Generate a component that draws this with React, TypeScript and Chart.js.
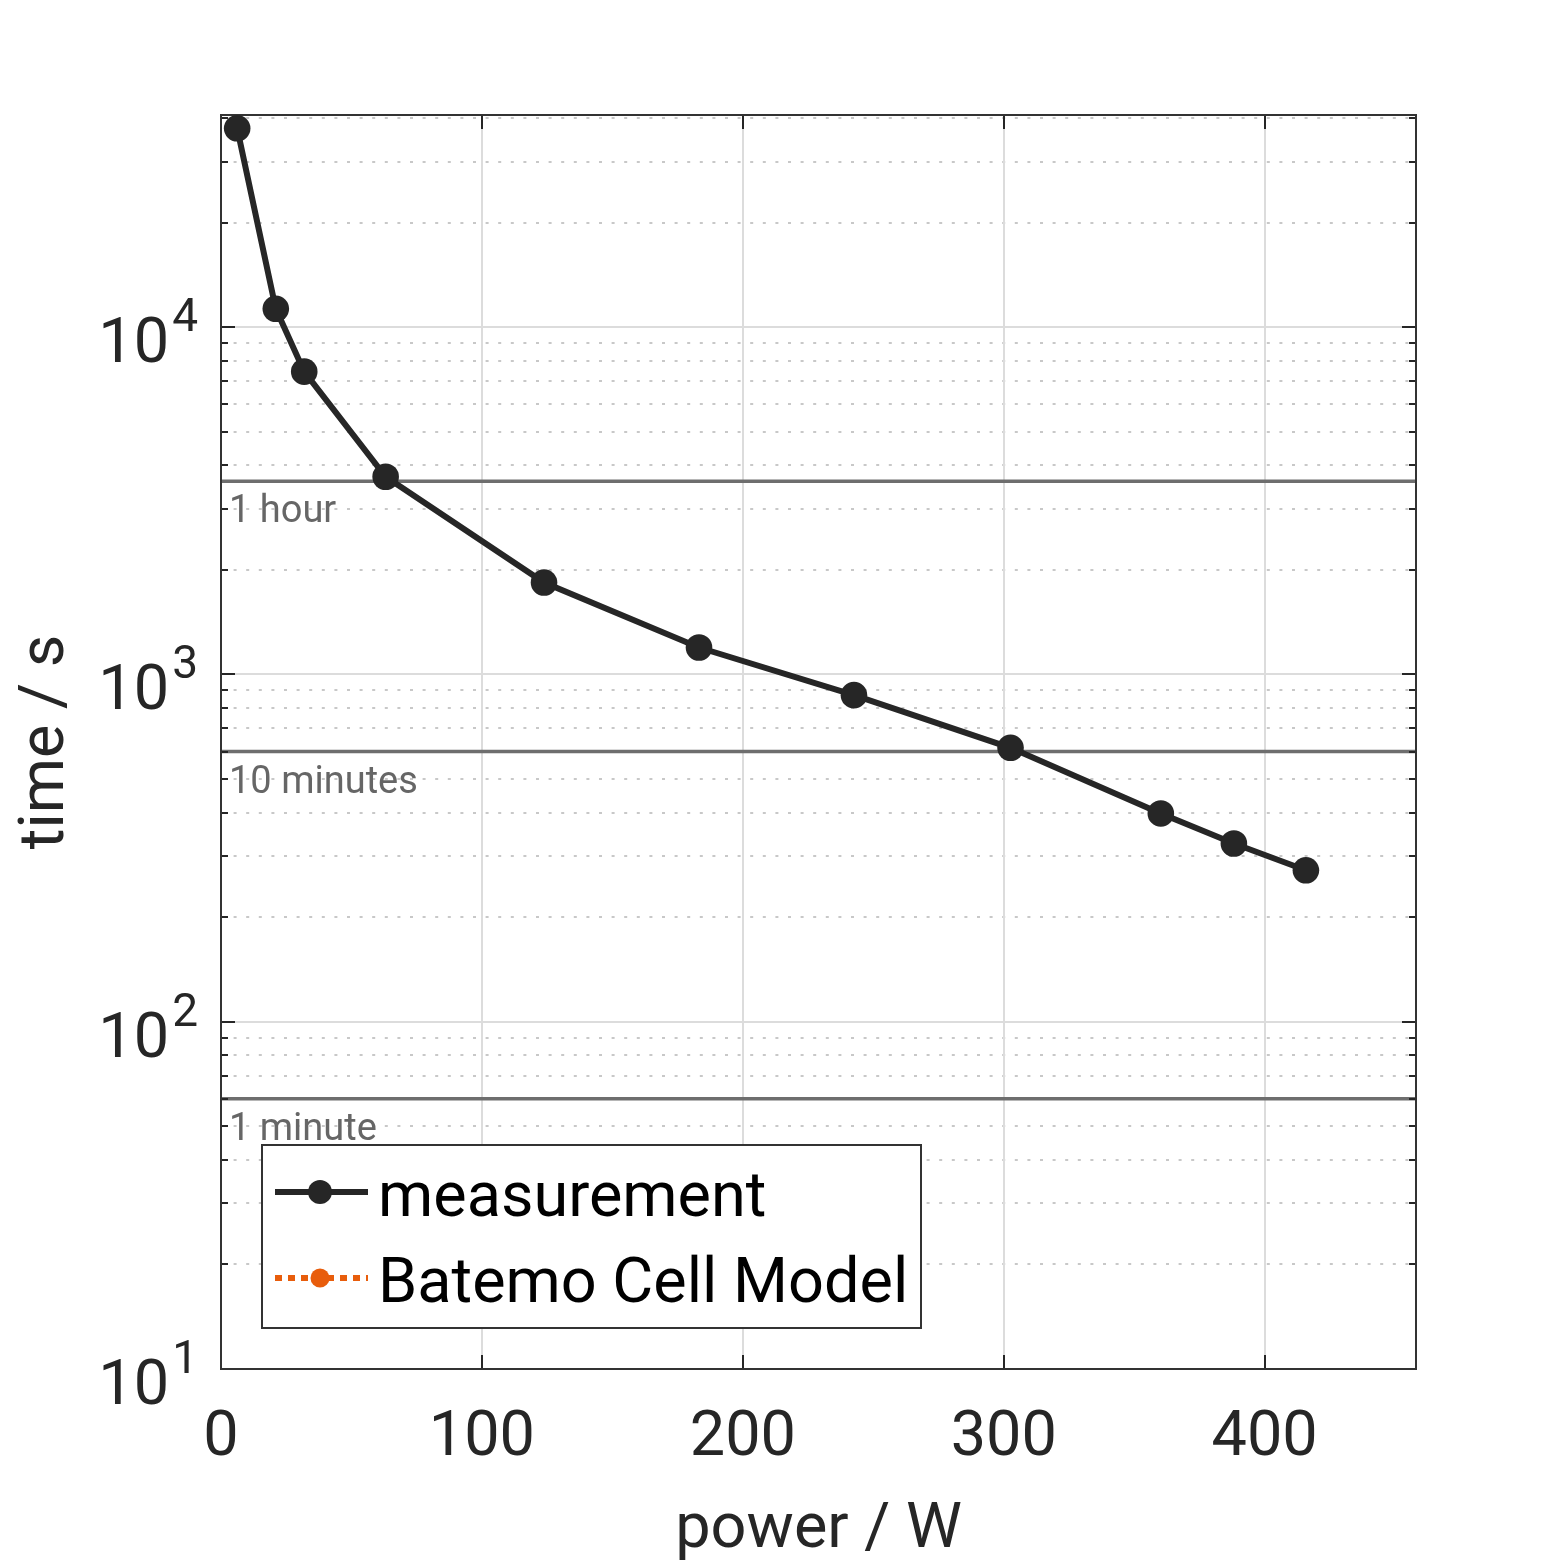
import React, { useEffect, useRef } from 'react';
import { Chart, registerables } from 'chart.js';

Chart.register(...registerables);

// ---- data ----
const powerW = [6.2, 21.0, 31.9, 63.1, 123.8, 183.2, 242.6, 302.6, 360.2, 388.2, 415.8];
const timeS = [37400, 11300, 7450, 3710, 1840, 1196, 872, 615, 398, 326, 273];
const modelPowerW: number[] = [];
const modelTimeS: number[] = [];
const seriesLabels = ['measurement', 'Batemo Cell Model'];
const xTicks = [0, 100, 200, 300, 400];
const yDecades = [10, 100, 1000, 10000];
const yExponents = ['1', '2', '3', '4'];
const yMinorMultipliers = [2, 3, 4, 5, 6, 7, 8, 9];
const refLineValues = [3600, 600, 60];
const refLineLabels = ['1 hour', '10 minutes', '1 minute'];
const xRange = [0, 458];
const yRange = [10, 40850];
const xTitle = 'power / W';
const yTitle = 'time / s';

const FONT = 'Roboto';
const DARK = '#262626';

const decorPlugin = {
  id: 'decor',
  beforeDatasetsDraw(chart: any) {
    const { ctx, chartArea: a, scales } = chart;
    const x = scales.x;
    const y = scales.y;
    const hline = (py: number, x0: number, x1: number) => {
      ctx.beginPath();
      ctx.moveTo(x0, py);
      ctx.lineTo(x1, py);
      ctx.stroke();
    };
    const vline = (px: number, y0: number, y1: number) => {
      ctx.beginPath();
      ctx.moveTo(px, y0);
      ctx.lineTo(px, y1);
      ctx.stroke();
    };
    const minorVals: number[] = [];
    yDecades.forEach((d) => yMinorMultipliers.forEach((m) => {
      const v = d * m;
      if (v <= yRange[1]) minorVals.push(v);
    }));
    ctx.save();
    // minor dotted grid
    ctx.setLineDash([3, 9.6]);
    ctx.strokeStyle = '#c8c8c8';
    ctx.lineWidth = 2;
    minorVals.forEach((v) => hline(Math.round(y.getPixelForValue(v)), a.left, a.right));
    ctx.setLineDash([]);
    // major grid
    ctx.strokeStyle = '#dcdcdc';
    ctx.lineWidth = 2;
    yDecades.forEach((v) => hline(Math.round(y.getPixelForValue(v)), a.left, a.right));
    xTicks.forEach((v) => vline(Math.round(x.getPixelForValue(v)), a.top, a.bottom));
    // reference lines
    ctx.strokeStyle = '#6e6e6e';
    ctx.lineWidth = 3.5;
    ctx.font = `38px ${FONT}`;
    ctx.textAlign = 'left';
    ctx.textBaseline = 'alphabetic';
    refLineValues.forEach((v, i) => {
      const py = y.getPixelForValue(v);
      hline(py, a.left, a.right);
      ctx.fillStyle = '#666666';
      ctx.fillText(refLineLabels[i], a.left + 8, py + 41);
    });
    // tick marks
    ctx.strokeStyle = DARK;
    ctx.lineWidth = 2;
    yDecades.forEach((v) => {
      const py = Math.round(y.getPixelForValue(v));
      hline(py, a.left, a.left + 14);
      hline(py, a.right - 14, a.right);
    });
    minorVals.forEach((v) => {
      const py = Math.round(y.getPixelForValue(v));
      hline(py, a.left, a.left + 7);
      hline(py, a.right - 7, a.right);
    });
    xTicks.forEach((v) => {
      const px = Math.round(x.getPixelForValue(v));
      vline(px, a.bottom, a.bottom - 14);
      vline(px, a.top, a.top + 14);
    });
    // border
    ctx.strokeStyle = '#333333';
    ctx.lineWidth = 2;
    ctx.strokeRect(a.left, a.top, a.right - a.left, a.bottom - a.top);
    ctx.restore();
  },
  afterDraw(chart: any) {
    const { ctx, chartArea: a, scales } = chart;
    const y = scales.y;
    ctx.save();
    // y tick labels with superscript exponent
    ctx.fillStyle = DARK;
    ctx.textAlign = 'right';
    ctx.textBaseline = 'alphabetic';
    const labelRight = a.left - 23;
    yDecades.forEach((v, i) => {
      const py = y.getPixelForValue(v);
      ctx.font = `46px ${FONT}`;
      const ew = ctx.measureText(yExponents[i]).width;
      ctx.fillText(yExponents[i], labelRight, py + 4);
      ctx.font = `63px ${FONT}`;
      ctx.fillText('10', labelRight - ew - 3, py + 35);
    });
    // legend
    const lx = a.left + 41;
    const ly = a.bottom - 224;
    const lw = 659;
    const lh = 183;
    ctx.fillStyle = '#ffffff';
    ctx.fillRect(lx, ly, lw, lh);
    ctx.strokeStyle = '#333333';
    ctx.lineWidth = 2;
    ctx.strokeRect(lx, ly, lw, lh);
    const rows = [ly + 47, ly + 133];
    chart.data.datasets.forEach((ds: any, i: number) => {
      const cy = rows[i];
      ctx.save();
      ctx.strokeStyle = ds.borderColor;
      ctx.lineWidth = ds.borderWidth;
      ctx.setLineDash(ds.borderDash || []);
      ctx.beginPath();
      ctx.moveTo(lx + 13, cy);
      ctx.lineTo(lx + 106, cy);
      ctx.stroke();
      ctx.setLineDash([]);
      ctx.fillStyle = ds.pointBackgroundColor;
      ctx.beginPath();
      ctx.arc(lx + 58, cy, i === 0 ? 12 : 9.5, 0, Math.PI * 2);
      ctx.fill();
      ctx.restore();
      ctx.fillStyle = '#000000';
      ctx.font = `63px ${FONT}`;
      ctx.textAlign = 'left';
      ctx.textBaseline = 'alphabetic';
      ctx.fillText(ds.label, lx + 116, cy + 24);
    });
    ctx.restore();
  },
};

export default function App() {
  const canvasRef = useRef<HTMLCanvasElement | null>(null);

  useEffect(() => {
    const canvas = canvasRef.current;
    if (!canvas) return;
    const chart = new Chart(canvas, {
      type: 'line',
      data: {
        datasets: [
          {
            label: seriesLabels[0],
            data: powerW.map((p, i) => ({ x: p, y: timeS[i] })),
            borderColor: DARK,
            backgroundColor: DARK,
            pointBackgroundColor: DARK,
            borderWidth: 6,
            pointRadius: 13.3,
            pointBorderWidth: 0,
            pointHoverRadius: 13.3,
            tension: 0,
            clip: false,
          } as any,
          {
            label: seriesLabels[1],
            data: modelPowerW.map((p, i) => ({ x: p, y: modelTimeS[i] })),
            borderColor: '#e85d0c',
            backgroundColor: '#e85d0c',
            pointBackgroundColor: '#e85d0c',
            borderWidth: 6,
            borderDash: [7, 6],
            pointRadius: 9.5,
            pointBorderWidth: 0,
            tension: 0,
            clip: false,
          } as any,
        ],
      },
      options: {
        responsive: false,
        devicePixelRatio: 1,
        animation: false,
        layout: { padding: { top: 115, right: 147, left: 0, bottom: 0 } },
        plugins: {
          legend: { display: false },
          tooltip: { enabled: false },
        },
        scales: {
          x: {
            type: 'linear',
            min: xRange[0],
            max: xRange[1],
            afterBuildTicks: (scale: any) => {
              scale.ticks = xTicks.map((v) => ({ value: v }));
            },
            afterFit: (scale: any) => {
              scale.height = 194;
            },
            ticks: {
              font: { family: FONT, size: 63, lineHeight: 1 },
              color: DARK,
              padding: 39,
              maxRotation: 0,
              autoSkip: false,
            },
            grid: { display: false, drawTicks: false },
            border: { display: false },
            title: {
              display: true,
              text: xTitle,
              color: DARK,
              font: { family: FONT, size: 63, lineHeight: 1 },
              padding: { top: 0, bottom: 0 },
            },
          },
          y: {
            type: 'logarithmic',
            min: yRange[0],
            max: yRange[1],
            afterFit: (scale: any) => {
              scale.width = 221;
            },
            ticks: { display: false },
            grid: { display: false, drawTicks: false },
            border: { display: false },
            title: {
              display: true,
              text: yTitle,
              color: DARK,
              font: { family: FONT, size: 63, lineHeight: 1 },
              padding: { top: 16, bottom: 0 },
            },
          },
        },
      } as any,
      plugins: [decorPlugin],
    });
    return () => chart.destroy();
  }, []);

  return (
    <div style={{ position: 'absolute', left: 0, top: 0, width: 1563, height: 1563, background: '#ffffff' }}>
      <canvas ref={canvasRef} width={1563} height={1563} style={{ width: 1563, height: 1563, display: 'block' }} />
    </div>
  );
}
